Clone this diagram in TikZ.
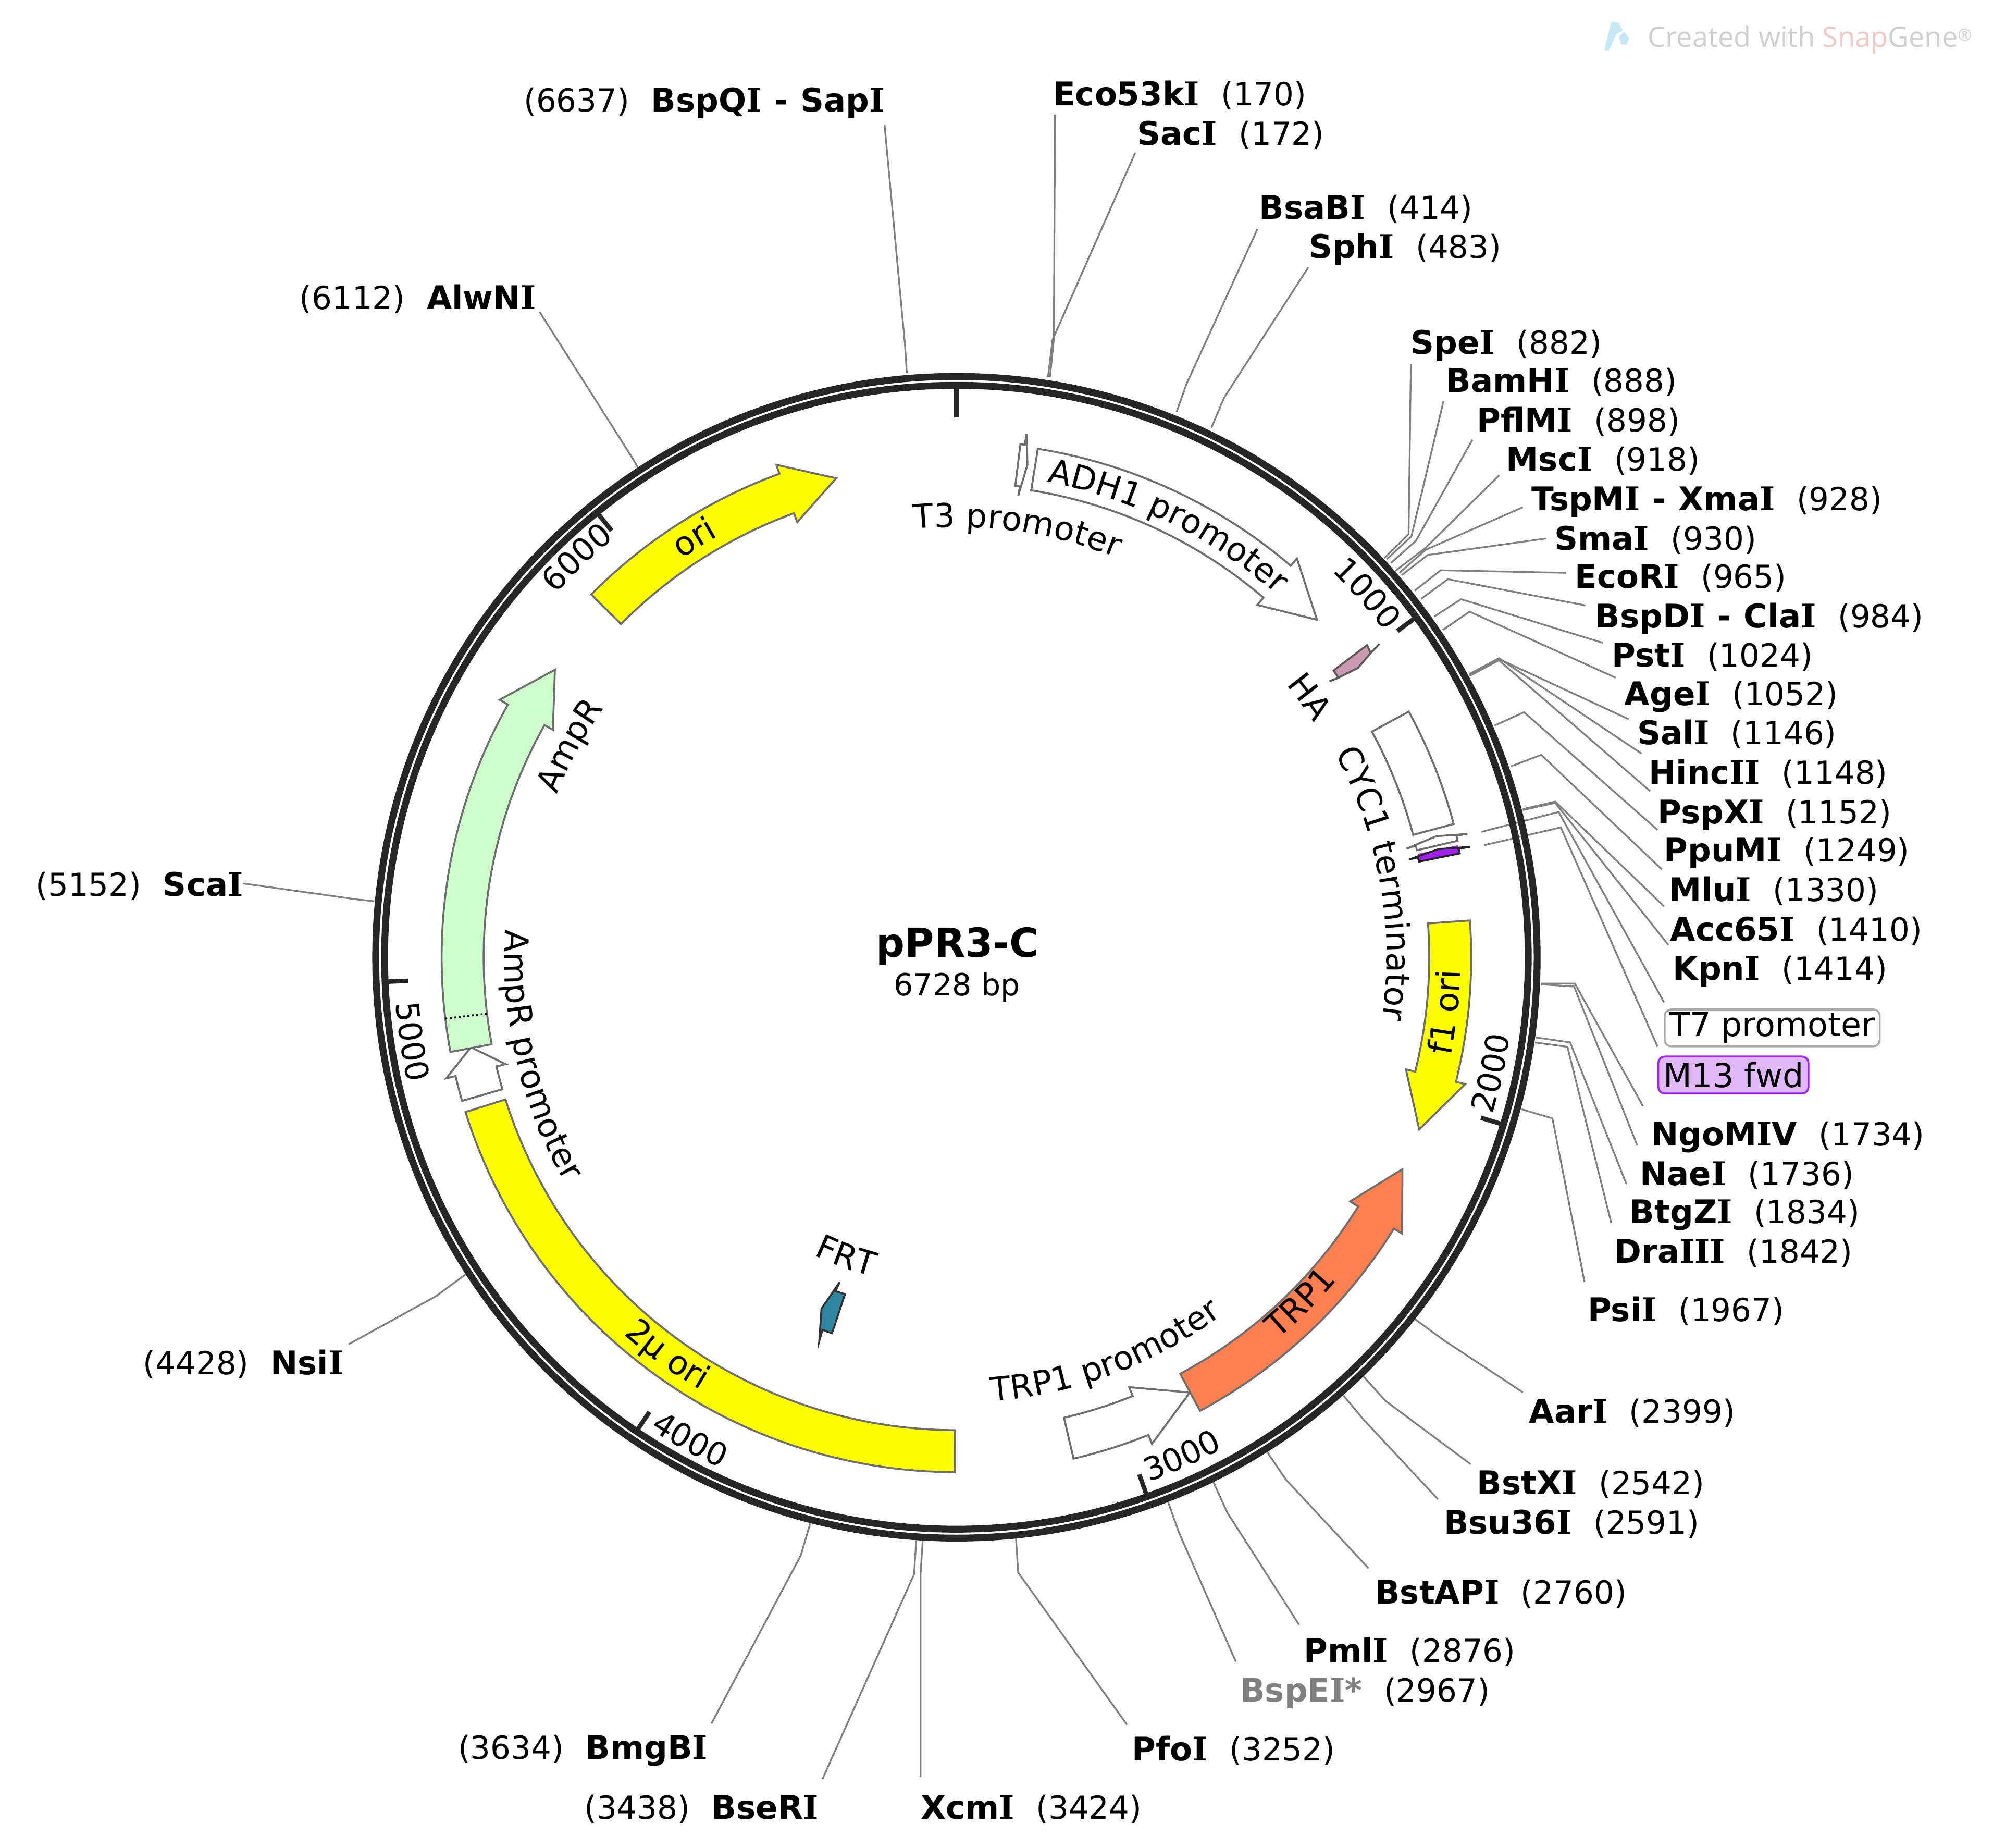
\documentclass[tikz,border=0pt]{standalone}
\usepackage{fontspec}
\usetikzlibrary{decorations.text}
\setmainfont{DejaVu Sans}
\newfontfamily\wmfont{Open Sans}
\newfontfamily\serifbold{DejaVu Serif}
\newcommand\vI{{\serifbold\bfseries I}}
\newcommand\lblf{\fontsize{26}{30}\selectfont}
\newcommand\smf{\fontsize{25}{30}\selectfont}
\newcommand\namef{\fontsize{25.6}{30}\selectfont\bfseries}
\definecolor{ringc}{HTML}{262626}
\definecolor{leadc}{HTML}{808080}
\definecolor{edgec}{HTML}{6E6E6E}
\definecolor{yel}{HTML}{FFFF00}
\definecolor{coral}{HTML}{FF7F50}
\definecolor{mint}{HTML}{CCFFCC}
\definecolor{prim}{HTML}{A020F0}
\definecolor{primf}{HTML}{E0B8FA}
\definecolor{logoc}{HTML}{C5E8F4}
\definecolor{wmg}{HTML}{CFCFCF}
\definecolor{wmr}{HTML}{F0C8C8}
\definecolor{hac}{HTML}{CC99B2}
\definecolor{frtc}{HTML}{2E86A0}
\tikzset{
  lab/.style={inner sep=0pt,outer sep=0pt,font=\fontsize{25}{30}\selectfont},
  lead/.style={draw=leadc,line width=1.35pt},
  feat/.style={draw=edgec,line width=1.5pt,line join=miter,fill=#1},
  feat/.default=white,
  tickm/.style={draw=ringc,line width=3.5pt},
  ringl/.style={draw=ringc,line width=5.4pt},
}
% id, anchor, x, y, text, ring point, elbow, tail
\newcommand\site[8]{%
  \node[lab,anchor=#2,yshift=1pt] (#1) at (#3,-#4) {#5};
  \coordinate (#1-r) at #6; \coordinate (#1-e) at #7; \coordinate (#1-t) at #8;
  \draw[lead] (#1-r) -- (#1-e) -- (#1-t);
}
\newcommand\RL[2]{\hspace*{-1.5pt}{\namef #1}\hspace{17pt}(#2)}
\newcommand\LL[2]{(#2)\hspace{17pt}{\namef #1}}
% style, tail angle, neck angle, tip angle (clockwise from the top)
\newcommand\featarrow[4]{%
  \draw[#1] ({90-(#2)}:371.5) arc[start angle={90-(#2)},end angle={90-(#3)},radius=371.5]
    -- ({90-(#3)}:364) -- ({90-(#4)}:388) -- ({90-(#3)}:412) -- ({90-(#3)}:404.5)
    arc[start angle={90-(#3)},end angle={90-(#2)},radius=404.5] -- cycle;
}
% format, text, baseline radius, centre angle
\newcommand\cwtext[4]{%
  \path[decorate,decoration={text along path,text={|#1|#2},text align=center}]
    ({90-(#4)+65}:#3) arc[start angle={90-(#4)+65},end angle={90-(#4)-65},radius=#3];
}
\newcommand\ccwtext[4]{%
  \path[decorate,decoration={text along path,text={|#1|#2},text align=center}]
    ({90-(#4)-65}:#3) arc[start angle={90-(#4)-65},end angle={90-(#4)+65},radius=#3];
}
\newcommand\tickm[3]{\draw[tickm] ({90-(#1)}:#2) -- ({90-(#1)}:#3);}
\begin{document}
\begin{tikzpicture}[x=1pt,y=1pt]
\useasboundingbox (0,0) rectangle (1566,-1451.4);
\fill[white] (0,0) rectangle (1566,-1451.4);

% watermark
\fill[logoc] (1260.6,-39.6) -- (1266,-17.2) -- (1272,-18) -- (1275,-24) -- (1270,-27) -- (1264,-39.6) -- cycle;
\fill[logoc] (1272,-29) -- (1276,-25) -- (1280,-30) -- (1278,-35) -- (1274,-35) -- cycle;
\node[inner sep=0pt,anchor=base west,font=\wmfont\fontsize{22.2}{26}\selectfont,text=wmg] (wm) at (1294.5,-37)
  {Created with \textcolor{wmr}{Snap}Gene\raisebox{5pt}{\fontsize{13}{15}\selectfont ®}};

% restriction sites
\site{eco}{base west}{829}{84}{\RL{Eco53k\vI}{170}}{(825,-296)}{(828,-267)}{(829,-90)}
\site{sac}{base west}{895}{115}{\RL{Sac\vI}{172}}{(823.5,-296)}{(827,-267)}{(892,-120)}
\site{bsab}{base west}{991}{173}{\RL{BsaB\vI}{414}}{(924.5,-323.5)}{(932.3,-301.6)}{(988,-180)}
\site{sph}{base west}{1030}{204}{\RL{Sph\vI}{483}}{(951.9,-336)}{(961.8,-312.5)}{(1028,-210)}
\site{spe}{base west}{1110}{279}{\RL{Spe\vI}{882}}{(1087.7,-438.4)}{(1106.8,-419.6)}{(1108.6,-286)}
\site{bam}{base west}{1138}{309}{\RL{BamH\vI}{888}}{(1089.5,-439.5)}{(1109,-421.3)}{(1134.2,-315.2)}
\site{pfl}{base west}{1162}{340}{\RL{PflM\vI}{898}}{(1092.9,-442.2)}{(1112.5,-424.9)}{(1156.9,-345.5)}
\site{msc}{base west}{1185}{371}{\RL{Msc\vI}{918}}{(1096.3,-448.5)}{(1120,-430.5)}{(1178,-373.4)}
\site{tsp}{base west}{1205}{402}{\RL{TspM\vI{}\hspace{1pt} - \hspace{1pt}Xma\vI}{928}}{(1099.7,-450)}{(1120,-432)}{(1196.5,-398.5)}
\site{sma}{base west}{1223}{433}{\RL{Sma\vI}{930}}{(1101.4,-451.8)}{(1121.8,-436)}{(1215,-423)}
\site{ecor}{base west}{1239}{463}{\RL{EcoR\vI}{965}}{(1111.6,-464)}{(1132,-448)}{(1230.4,-450)}
\site{bspd}{base west}{1255}{494}{\RL{BspD\vI{}\hspace{1pt} - \hspace{1pt}Cla\vI}{984}}{(1116.7,-470.4)}{(1137.7,-455)}{(1245.7,-475.6)}
\site{pst}{base west}{1268}{525}{\RL{Pst\vI}{1024}}{(1126.9,-484.4)}{(1148,-470.7)}{(1259.3,-505)}
\site{age}{base west}{1278}{555}{\RL{Age\vI}{1052}}{(1133.7,-494.9)}{(1154.7,-480.5)}{(1269.5,-532.4)}
\site{sal}{base west}{1288}{586}{\RL{Sal\vI}{1146}}{(1154.7,-530)}{(1177.8,-517.7)}{(1279.7,-565)}
\site{hinc}{base west}{1297}{617}{\RL{Hinc\vI\vI}{1148}}{(1154.7,-529.4)}{(1177.8,-517.1)}{(1289.8,-592)}
\site{psp}{base west}{1304}{648}{\RL{PspX\vI}{1152}}{(1154.7,-531)}{(1177.8,-518.7)}{(1296.6,-621.5)}
\site{ppu}{base west}{1309}{678}{\RL{PpuM\vI}{1249}}{(1174.4,-570)}{(1197.5,-559.5)}{(1302.4,-652)}
\site{mlu}{base west}{1313}{709}{\RL{Mlu\vI}{1330}}{(1187.3,-602)}{(1211,-593)}{(1305.8,-683)}
\site{acc}{base west}{1314}{740}{\RL{Acc65\vI}{1410}}{(1196.5,-635.6)}{(1222,-629.7)}{(1307.5,-712)}
\site{kpn}{base west}{1316}{771}{\RL{Kpn\vI}{1414}}{(1196.5,-636.4)}{(1222,-630.7)}{(1310.9,-742.3)}
\site{ngo}{base west}{1299}{901}{\RL{NgoM\vI V}{1734}}{(1210.7,-772.7)}{(1237.4,-772.7)}{(1291,-869)}
\site{nae}{base west}{1290}{932}{\RL{Nae\vI}{1736}}{(1210.7,-773.3)}{(1236.8,-775)}{(1286.4,-899.7)}
\site{btg}{base west}{1282}{962}{\RL{BtgZ\vI}{1834}}{(1206.8,-815)}{(1233.7,-818.9)}{(1278,-930.3)}
\site{dra}{base west}{1270}{993}{\RL{Dra\vI\vI\vI}{1842}}{(1206,-818.9)}{(1231.6,-822.4)}{(1266,-960.7)}
\site{psi}{base west}{1249}{1039}{\RL{Psi\vI}{1967}}{(1195.6,-871.4)}{(1219.8,-878.6)}{(1245,-1007)}
\site{aar}{base west}{1203}{1119}{\RL{Aar\vI}{2399}}{(1111.7,-1036.2)}{(1133.9,-1052.5)}{(1196.6,-1093.8)}
\site{bstx}{base west}{1162}{1175}{\RL{BstX\vI}{2542}}{(1071.3,-1081.3)}{(1088.5,-1100.4)}{(1155.5,-1150.2)}
\site{bsu}{base west}{1136}{1206}{\RL{Bsu36\vI}{2591}}{(1055.6,-1096.3)}{(1071.3,-1115.1)}{(1129.9,-1177.8)}
\site{bsta}{base west}{1082}{1261}{\RL{BstAP\vI}{2760}}{(995.8,-1140.8)}{(1010.2,-1162.1)}{(1075.3,-1232)}
\site{pml}{base west}{1026}{1307}{\RL{Pml\vI}{2876}}{(953.4,-1164.3)}{(964.3,-1188.2)}{(1020.7,-1276.3)}
\site{bspe}{base west}{976}{1338}{\RL{\textcolor{leadc}{BspE\vI*}}{2967}}{(917.8,-1179.9)}{(926.3,-1203.8)}{(971.1,-1305.5)}
\site{pfo}{base west}{891}{1384}{\RL{Pfo\vI}{3252}}{(798.3,-1208.6)}{(800,-1235.3)}{(885.5,-1354.9)}
\site{xcm}{base west}{725}{1430}{\RL{Xcm\vI}{3424}}{(725,-1210.2)}{(723.3,-1236.8)}{(723.3,-1396)}
\site{bser}{base east}{643}{1430}{\LL{BseR\vI}{3438}}{(719.9,-1210.2)}{(718.2,-1236.8)}{(646.2,-1397.7)}
\site{bmg}{base east}{556}{1383}{\LL{BmgB\vI}{3634}}{(636.7,-1196.6)}{(629.2,-1221.9)}{(559,-1354)}
\site{nsi}{base east}{270}{1081}{\LL{Nsi\vI}{4428}}{(366,-1001)}{(343,-1018)}{(274,-1056)}
\site{sca}{base east}{191}{705}{\LL{Sca\vI}{5152}}{(294,-708)}{(280,-706.5)}{(191,-694)}
\site{alw}{base east}{421}{244}{\LL{AlwN\vI}{6112}}{(501,-367)}{(497,-360)}{(424,-245)}
\site{bspq}{base east}{695}{89}{\LL{BspQ\vI{}\hspace{1pt} - \hspace{1pt}Sap\vI}{6637}}{(712.5,-293)}{(711,-270)}{(695,-98)}

% primer boxes and their leaders
\node[lab,anchor=north west,draw=black!33,line width=1.5pt,rounded corners=5pt,minimum width=169pt,minimum height=29pt,font=\lblf] (t7) at (1308,-793) {T7 promoter};
\node[lab,anchor=north west,draw=prim,fill=primf,line width=1.5pt,rounded corners=5pt,minimum width=118pt,minimum height=29pt,font=\lblf] (m13) at (1303,-830) {M13 fwd};
\coordinate (t7-r) at (1164,-653.5); \coordinate (t7-e) at (1224.7,-637.9); \coordinate (t7-t) at (1307.5,-787.4);
\coordinate (m13-r) at (1166,-664); \coordinate (m13-e) at (1226.4,-650); \coordinate (m13-t) at (1302.4,-822.3);
\draw[lead] (t7-r) -- (t7-e) -- (t7-t);
\draw[lead] (m13-r) -- (m13-e) -- (m13-t);

% centre
\node[inner sep=0pt,anchor=base,font=\bfseries\fontsize{31.5}{36}\selectfont] (name) at (752.5,-752) {pPR3-C};
\node[inner sep=0pt,anchor=base,font=\fontsize{24}{28}\selectfont] (size) at (752,-782) {6728 bp};

\begin{scope}[shift={(751.5,-752)}]
  % backbone
  \draw[ringl] (0,0) circle[radius=456.3];
  \draw[ringl] (0,0) circle[radius=449.3];
  \draw[tickm,line width=4pt] (90:424) -- (90:449);
  \tickm{53.51}{431}{449}
  \tickm{107.01}{431}{449}
  \tickm{160.52}{431}{449}
  \tickm{214.03}{431}{449}
  \tickm{267.54}{431}{449}
  \tickm{321.05}{431}{449}
  % scale numbers
  \cwtext{\smf}{1000}{423}{48.5}
  \ccwtext{\smf}{2000}{439}{102.2}
  \ccwtext{\smf}{3000}{439}{155.7}
  \ccwtext{\smf}{4000}{442}{208.9}
  \ccwtext{\smf}{5000}{442}{261.2}
  \cwtext{\smf}{6000}{425}{316.5}
  % features
  \featarrow{feat=white}{9.1}{40.5}{46.9}
  \featarrow{feat=yel}{85.9}{104}{110.4}
  \featarrow{feat=white}{166.85}{158.1}{151.8}
  \featarrow{feat=coral}{151.75}{121.8}{115.4}
  \featarrow{feat=white}{253.8}{256.65}{259.5}
  \featarrow{feat=mint}{259.4}{299.4}{305.6}
  \featarrow{feat=yel}{314.8}{339.9}{345.9}
  \draw[feat=yel] (90-180.2:371.5) arc[start angle=-90.2,end angle=-162.5,radius=371.5]
     -- (-162.5:404.5) arc[start angle=-162.5,end angle=-90.2,radius=404.5] -- cycle;
  \draw[feat=white] (90-61.5:371.5) arc[start angle=28.5,end angle=15,radius=371.5]
     -- (15:404.5) arc[start angle=15,end angle=28.5,radius=404.5] -- cycle;
  \draw[black,line width=1.5pt,dotted] (90-263.15:371.5) -- (90-263.15:404.5);
  % feature labels
  \cwtext{\lblf}{T3 promoter}{338}{8.1}
  \cwtext{\lblf}{ADH1 promoter}{380}{26.1}
  \cwtext{\lblf}{HA}{336}{53.6}
  \cwtext{\lblf}{CYC1 terminator}{338}{80}
  \cwtext{\lblf}{AmpR}{339}{298.7}
  \cwtext{\lblf}{ori}{380}{328}
  \ccwtext{\lblf}{f1 ori}{396}{96.4}
  \ccwtext{\lblf}{TRP1}{392}{135.1}
  \ccwtext{\lblf}{TRP1 promoter}{350}{159.4}
  \ccwtext{\lblf}{FRT}{259.4}{200.2}
  \ccwtext{\lblf}{2µ ori}{395}{216}
  \ccwtext{\lblf}{AmpR promoter}{355}{256.8}
\end{scope}

% small features
\draw[feat=white] (806.6,-340.9) -- (805.2,-349.4) -- (801.8,-348.9) -- (797.7,-381.8) -- (801.4,-382.1) -- (800,-389.6) -- (807.3,-365) -- cycle;
\draw[draw=black!65,line width=1.5pt,fill=hac] (1074.1,-506.8) -- (1047.8,-526.8) -- (1051.7,-532.4) -- (1044.6,-535.2) -- (1051.7,-532.4) -- (1067,-524.7) -- (1077,-513) -- (1083.8,-505.9) -- (1077,-513) -- cycle;
\draw[feat=white] (1105.1,-666.7) -- (1112.5,-664.2) -- (1113.3,-668) -- (1145.2,-660.5) -- (1144.3,-656.4) -- (1153.1,-655.1) -- (1128.6,-656.9) -- cycle;
\fill[prim] (1114,-670.8) -- (1145.4,-664) -- (1147,-670.4) -- (1115,-676.9) -- cycle;
\draw[draw=ringc,line width=1.5pt] (1107,-675.3) -- (1114.2,-673.5) -- (1114.9,-676.9) -- (1147,-670.4) -- (1146,-666.7) -- (1155.2,-665.3) -- (1130.4,-667) -- cycle;
\draw[draw=black!80,line width=1.5pt,fill=frtc] (659.8,-1007.2) -- (656.4,-1014.3) -- (663.9,-1016.7) -- (653.7,-1047.4) -- (646.2,-1044.7) -- (643.7,-1053.6) -- (645.5,-1028) -- cycle;
\end{tikzpicture}
\end{document}
